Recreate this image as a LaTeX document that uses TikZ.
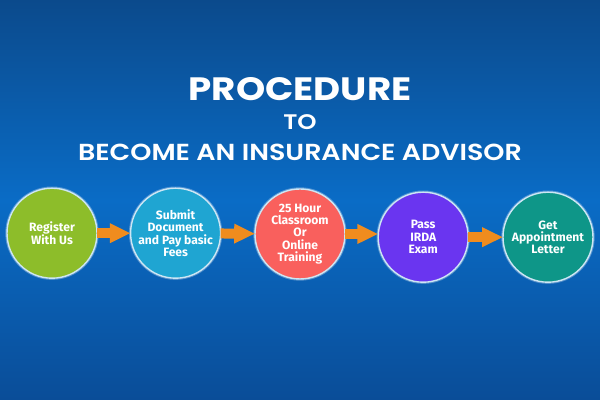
\documentclass[tikz,border=0pt]{standalone}
\usepackage{fontspec}
\setmainfont{Fira Sans}
\newfontfamily\titlefont[FakeStretch=1.15]{Poppins}
\newfontfamily\subfont[FakeStretch=1.16]{Poppins SemiBold}
\usepackage{tikz}
\usetikzlibrary{arrows.meta}

\definecolor{bgdark}{HTML}{0B4A8C}
\definecolor{bgmid}{HTML}{0A6CC6}
\definecolor{bgbase}{HTML}{0A4D98}
\definecolor{rimblue}{HTML}{CDE6F4}
\definecolor{flow}{HTML}{F08C1E}
\definecolor{stepgreen}{HTML}{8DBD2A}
\definecolor{stepblue}{HTML}{1FA5D2}
\definecolor{stepred}{HTML}{F9605D}
\definecolor{steppurple}{HTML}{6A35F0}
\definecolor{stepteal}{HTML}{0E9688}

\begin{document}
\begin{tikzpicture}[
    stepnode/.style={circle, draw=rimblue, line width=1pt, minimum size=2.25cm,
        inner sep=0pt, outer sep=0pt, text=white, align=center,
        font=\fontsize{8.6}{8.8}\selectfont\bfseries,
        preaction={draw=white, opacity=0.3, line width=2.4pt}},
    flowline/.style={draw=flow, line width=0.25cm,
        -{Triangle[length=0.52cm, width=0.46cm, fill=flow]}},
    titletext/.style={text=white, inner sep=0pt}
]

    % Background
    \shade[top color=bgdark, bottom color=bgbase, middle color=bgmid]
        (0, 0) rectangle (15, 10);
    \useasboundingbox (0, 0) rectangle (15, 10);

    % Title
    \node[titletext, font=\titlefont\fontsize{23}{28}\selectfont\bfseries] (head) at (7.5, 7.77) {PROCEDURE};
    \node[titletext, font=\subfont\fontsize{15}{18}\selectfont] (to) at (7.5, 6.95) {TO};
    \node[titletext, font=\subfont\fontsize{16.5}{20}\selectfont] (become) at (7.5, 6.2) {BECOME AN INSURANCE ADVISOR};

    % Steps
    \node[stepnode, fill=stepgreen] (register) at (1.3, 4.17) {Register\\With Us};
    \node[stepnode, fill=stepblue] (submit) at (4.39, 4.17) {Submit\\Document\\and Pay basic\\Fees};
    \node[stepnode, fill=stepred] (classroom) at (7.5, 4.15) {25 Hour\\Classroom\\Or\\Online\\Training};
    \node[stepnode, fill=steppurple] (pass) at (10.58, 4.07) {Pass\\IRDA\\Exam};
    \node[stepnode, fill=stepteal] (letter) at (13.7, 4.07) {Get\\Appointment\\Letter};

    % Arrows between steps
    \draw[flowline] (register) -- (submit);
    \draw[flowline] (submit) -- (classroom);
    \draw[flowline] (classroom.east) -- (classroom.east -| pass.west);
    \draw[flowline] (pass) -- (letter);

\end{tikzpicture}
\end{document}
